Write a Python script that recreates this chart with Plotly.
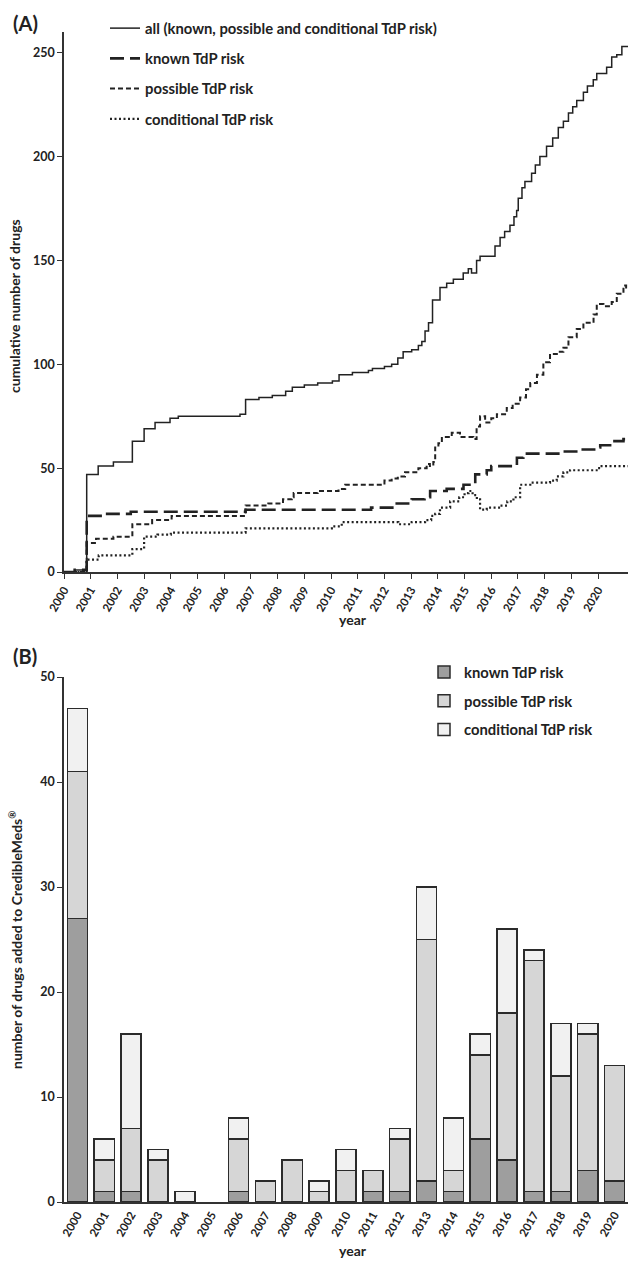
import plotly.graph_objects as go

# ---------------- Panel A: cumulative step data (decimal year, count) -------------
all_x = [2000.0, 2000.4, 2000.84, 2000.85, 2001.28, 2001.85, 2002.56, 2003.0, 2003.41, 2003.97,
         2004.28, 2006.59, 2006.8, 2007.3, 2007.8, 2008.3, 2008.55, 2009.0, 2009.5, 2010.05,
         2010.3, 2010.8, 2011.4, 2011.55, 2012.0, 2012.27, 2012.5, 2012.7, 2013.02, 2013.27,
         2013.4, 2013.52, 2013.65, 2013.8, 2014.08, 2014.33, 2014.58, 2014.95, 2015.14, 2015.26,
         2015.45, 2015.58, 2016.14, 2016.33, 2016.5, 2016.7, 2016.85, 2016.95, 2017.01, 2017.15,
         2017.26, 2017.51, 2017.65, 2017.82, 2018.07, 2018.3, 2018.51, 2018.7, 2018.89, 2019.05,
         2019.2, 2019.45, 2019.6, 2019.82, 2019.95, 2020.32, 2020.51, 2020.7, 2020.89, 2021.12]
all_y = [0, 1, 2, 47, 51, 53, 63, 69, 72, 74,
         75, 76, 83, 84, 85, 87, 89, 90, 91, 92,
         95, 96, 97, 98, 99, 100, 103, 106, 107, 109,
         111, 116, 120, 131, 137, 139, 141, 144, 146, 144,
         150, 152, 157, 161, 164, 167, 171, 174, 180, 185,
         188, 192, 196, 200, 205, 209, 214, 217, 221, 224,
         227, 231, 234, 237, 240, 243, 248, 249, 253, 253]

known_x = [2000.0, 2000.4, 2000.85, 2001.5, 2002.5, 2006.8, 2011.5, 2012.46, 2013.02, 2013.5,
           2013.71, 2014.33, 2014.96, 2015.4, 2015.83, 2016.0, 2016.96, 2017.2, 2018.58, 2019.33,
           2019.95, 2020.08, 2020.45, 2020.95, 2021.05, 2021.12]
known_y = [0, 1, 27, 28, 29, 30, 31, 33, 35, 36,
           39, 40, 42, 47, 49, 51, 55, 57, 58, 59,
           60, 61, 63, 64, 65, 65]

poss_x = [2000.0, 2000.85, 2001.2, 2001.85, 2002.56, 2003.3, 2004.03, 2006.8, 2007.65, 2008.2,
          2008.53, 2008.6, 2009.5, 2010.28, 2010.53, 2012.0, 2012.27, 2012.5, 2012.77, 2013.27,
          2013.58, 2013.7, 2013.83, 2013.9, 2014.02, 2014.15, 2014.52, 2014.83, 2015.33, 2015.45,
          2015.58, 2015.77, 2016.0, 2016.21, 2016.58, 2016.8, 2017.08, 2017.3, 2017.46, 2017.71,
          2017.95, 2018.2, 2018.5, 2018.7, 2018.89, 2019.2, 2019.45, 2019.83, 2019.95, 2020.2,
          2020.51, 2020.7, 2020.95, 2021.05, 2021.12]
poss_y = [0, 14, 16, 17, 23, 25, 27, 32, 33, 35,
          36, 38, 39, 40, 42, 44, 45, 46, 48, 50,
          52, 51, 53, 60, 62, 65, 67, 65, 64, 70,
          75, 72, 74, 76, 79, 81, 84, 88, 91, 95,
          101, 105, 106, 108, 113, 117, 120, 124, 129, 128,
          130, 134, 138, 137, 137]

cond_x = [2000.0, 2000.85, 2001.3, 2002.56, 2003.0, 2003.5, 2004.0, 2006.8, 2010.03, 2010.4,
          2012.52, 2013.02, 2013.52, 2013.75, 2013.9, 2014.08, 2014.46, 2014.8, 2015.0, 2015.15,
          2015.3, 2015.46, 2015.58, 2015.83, 2016.33, 2016.6, 2016.83, 2017.08, 2017.46, 2018.2,
          2018.45, 2018.7, 2018.95, 2020.0, 2020.08, 2021.12]
cond_y = [0, 6, 8, 11, 17, 18, 19, 21, 22, 24,
          23, 24, 25, 27, 28, 31, 34, 36, 38, 39,
          37, 35, 30, 31, 32, 34, 36, 42, 43, 44,
          46, 48, 49, 50, 51, 51]

year_ticks = list(range(2000, 2021))

# ---------------- Panel B: drugs added per year -------------
years = [str(y) for y in range(2000, 2021)]
known_b = [27, 1, 1, 0, 0, 0, 1, 0, 0, 0, 0, 1, 1, 2, 1, 6, 4, 1, 1, 3, 2]
possible_b = [14, 3, 6, 4, 0, 0, 5, 2, 4, 1, 3, 2, 5, 23, 2, 8, 14, 22, 11, 13, 11]
conditional_b = [6, 2, 9, 1, 1, 0, 2, 0, 0, 1, 2, 0, 1, 5, 5, 2, 8, 1, 5, 1, 0]


def nz(vals):
    # zero-height segments are not drawn (no outline at the baseline)
    return [v if v else None for v in vals]


# ---------------- layout helpers (pixel -> paper) -------------
W, H = 630, 1263
L, R, T, B = 64, 2, 32, 61
PW, PH = W - L - R, H - T - B


def px(x):
    return (x - L) / PW


def py(y):
    return (H - B - y) / PH


FONT = "Lato, 'Open Sans', sans-serif"
INK = "#222222"

fig = go.Figure()

line_common = dict(mode="lines", line_shape="hv", xaxis="x", yaxis="y", legend="legend",
                   hoverinfo="skip")
fig.add_trace(go.Scatter(x=all_x, y=all_y, name="all (known, possible and conditional TdP risk)",
                         line=dict(color=INK, width=1.5), legendgroup="a", **line_common))
fig.add_trace(go.Scatter(x=known_x, y=known_y, name="known TdP risk",
                         line=dict(color=INK, width=2.6, dash="14px,6px"), legendgroup="b",
                         **line_common))
fig.add_trace(go.Scatter(x=poss_x, y=poss_y, name="possible TdP risk",
                         line=dict(color=INK, width=2, dash="5px,3px"), legendgroup="c",
                         **line_common))
fig.add_trace(go.Scatter(x=cond_x, y=cond_y, name="conditional TdP risk",
                         line=dict(color=INK, width=2.2, dash="2px,2.5px"), legendgroup="d",
                         **line_common))

bar_line = dict(color="#2b2b2b", width=1.5)
fig.add_trace(go.Bar(x=years, y=nz(known_b), name="known TdP risk", xaxis="x2", yaxis="y2",
                     marker=dict(color="#9e9e9e", line=bar_line), legend="legend2",
                     legendgroup="e"))
fig.add_trace(go.Bar(x=years, y=nz(possible_b), name="possible TdP risk", xaxis="x2", yaxis="y2",
                     marker=dict(color="#d6d6d6", line=bar_line), legend="legend2",
                     legendgroup="f"))
fig.add_trace(go.Bar(x=years, y=nz(conditional_b), name="conditional TdP risk", xaxis="x2",
                     yaxis="y2", marker=dict(color="#f1f1f1", line=bar_line), legend="legend2",
                     legendgroup="g"))

axis_common = dict(showgrid=False, zeroline=False, showline=True, linecolor="#333333",
                   linewidth=1.5, ticks="outside", ticklen=5, tickcolor="#333333", tickwidth=1.2)
ytick_font = dict(family=FONT, size=12.5, color=INK, weight="bold")
xtick_font = dict(family=FONT, size=11.5, color=INK, weight="bold")

top_dom = [py(572), py(32)]
bot_dom = [py(1202), py(677)]

fig.update_layout(
    width=W, height=H,
    margin=dict(l=L, r=R, t=T, b=B, autoexpand=False),
    paper_bgcolor="white", plot_bgcolor="white",
    font=dict(family=FONT, color=INK),
    barmode="stack", bargap=0.25,
    xaxis=dict(domain=[0, 1], range=[2000, 2021.12], tickvals=year_ticks,
               ticktext=[str(y) for y in year_ticks], tickangle=-60, anchor="y",
               tickfont=xtick_font, **axis_common),
    yaxis=dict(domain=top_dom, range=[0, 260], tickvals=[0, 50, 100, 150, 200, 250],
               anchor="x", tickfont=ytick_font, **axis_common),
    xaxis2=dict(domain=[0, 1], tickangle=-60, anchor="y2", type="category",
                tickfont=xtick_font, **{**axis_common, "ticks": ""}),
    yaxis2=dict(domain=bot_dom, range=[0, 50], tickvals=[0, 10, 20, 30, 40, 50], anchor="x2",
                tickfont=ytick_font, **axis_common),
    legend=dict(x=px(105), y=py(12), xanchor="left", yanchor="top", bgcolor="rgba(0,0,0,0)",
                font=dict(family=FONT, size=14.8, color=INK, weight="bold"),
                traceorder="grouped", tracegroupgap=8, itemwidth=30),
    legend2=dict(x=px(424), y=py(656), xanchor="left", yanchor="top", bgcolor="rgba(0,0,0,0)",
                 font=dict(family=FONT, size=14.8, color=INK, weight="bold"),
                 traceorder="grouped", tracegroupgap=6.5, itemwidth=30),
    showlegend=True,
)

ann_font = dict(family=FONT, size=14, color=INK, weight="bold")
annotations = [
    dict(text="(A)", x=px(25), y=py(23), font=dict(family=FONT, size=20, color=INK, weight="bold")),
    dict(text="(B)", x=px(25), y=py(656), font=dict(family=FONT, size=20, color=INK, weight="bold")),
    dict(text="cumulative number of drugs", x=px(15), y=py(306), textangle=-90, font=ann_font),
    dict(text="number of drugs added to CredibleMeds<sup>®</sup>", x=px(15), y=py(940),
         textangle=-90, font=ann_font),
    dict(text="year", x=px(353), y=py(619), font=ann_font),
    dict(text="year", x=px(353), y=py(1250), font=ann_font),
]
for a in annotations:
    a.update(xref="paper", yref="paper", showarrow=False, xanchor="center", yanchor="middle")
fig.update_layout(annotations=annotations)

fig.write_html("out.html")
